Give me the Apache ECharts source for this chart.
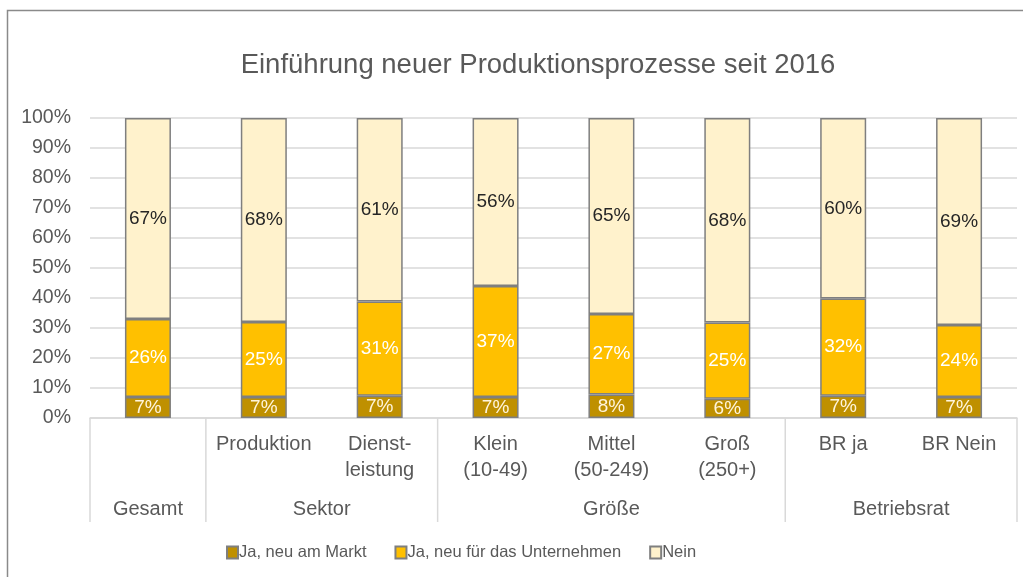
<!DOCTYPE html>
<html>
<head>
<meta charset="utf-8">
<script src="https://cdn.jsdelivr.net/npm/echarts@6/dist/echarts.min.js"></script>
<style>
html,body{margin:0;padding:0;background:#fff;}
#chart{width:1023px;height:577px;}
</style>
</head>
<body>
<div id="chart"></div>
<script>
// ---- data ----
var categories = ['', 'Produktion', 'Dienst-\nleistung', 'Klein\n(10-49)', 'Mittel\n(50-249)', 'Groß\n(250+)', 'BR ja', 'BR Nein'];
var groupNames = ['Gesamt', 'Sektor', 'Größe', 'Betriebsrat'];
var groupStart = [0, 1, 3, 6];
var groupEnd = [0, 2, 5, 7];
var seriesNames = ['Ja, neu am Markt', 'Ja, neu für das Unternehmen', 'Nein'];
var neuAmMarkt = [7, 7, 7.4, 7, 7.8, 6.4, 7.4, 7];
var neuFuerUnternehmen = [26, 25, 31.4, 37, 26.9, 25.4, 32.4, 24];
var nein = [67, 68, 61.2, 56, 65.3, 68.2, 60.2, 69];
var yTicks = [0, 10, 20, 30, 40, 50, 60, 70, 80, 90, 100];

var FONT = 'Liberation Sans';
var TXT = '#595959';
var GRID_C = '#D9D9D9';
var BORDER = '#7F7F7F';

var chart = echarts.init(document.getElementById('chart'));

function barSeries(name, data, color, labelColor) {
  return {
    name: name,
    type: 'bar',
    stack: 'total',
    barWidth: 46,
    data: data,
    itemStyle: { color: color, borderColor: BORDER, borderWidth: 1.5 },
    label: {
      show: true,
      position: 'inside',
      color: labelColor,
      fontFamily: FONT,
      fontSize: 19,
      formatter: function (p) { return Math.round(p.value) + '%'; }
    },
    emphasis: { disabled: true }
  };
}

var groupData = groupNames.map(function (n, i) {
  return { name: n, value: [groupStart[i], 0, groupEnd[i], i] };
});

var option = {
  animation: false,
  backgroundColor: '#fff',
  graphic: [{
    type: 'rect',
    shape: { x: 7.5, y: 10.5, width: 1040, height: 600 },
    style: { fill: 'none', stroke: '#8A8A8A', lineWidth: 1.5 },
    silent: true, z: 0
  }],
  title: {
    text: 'Einführung neuer Produktionsprozesse seit 2016',
    left: 533,
    top: 46,
    textAlign: 'center',
    textStyle: { fontFamily: FONT, fontSize: 27.5, fontWeight: 'normal', color: TXT }
  },
  legend: {
    data: seriesNames,
    left: 221,
    top: 539,
    icon: 'rect',
    itemWidth: 11,
    itemHeight: 12,
    itemGap: 28,
    textStyle: { fontFamily: FONT, fontSize: 16.5, color: TXT, padding: [0, 0, 0, -4] },
    selectedMode: false
  },
  grid: { left: 90, right: 6, top: 118, bottom: 159, containLabel: false },
  xAxis: {
    type: 'category',
    data: categories,
    axisLine: { show: true, lineStyle: { color: GRID_C, width: 1.5 } },
    axisTick: { show: false },
    axisLabel: {
      interval: 0,
      margin: 13,
      fontFamily: FONT,
      fontSize: 20,
      lineHeight: 26,
      color: TXT,
      align: 'center'
    }
  },
  yAxis: {
    type: 'value',
    min: yTicks[0],
    max: yTicks[yTicks.length - 1],
    interval: yTicks[1] - yTicks[0],
    axisLine: { show: false },
    axisTick: { show: false },
    splitLine: { lineStyle: { color: GRID_C, width: 1.5 } },
    axisLabel: {
      formatter: '{value}%',
      fontFamily: FONT,
      fontSize: 19.5,
      color: TXT,
      margin: 19
    }
  },
  series: [
    barSeries(seriesNames[0], neuAmMarkt, '#BF9000', '#FFF5DC'),
    barSeries(seriesNames[1], neuFuerUnternehmen, '#FFC000', '#FFFFFF'),
    barSeries(seriesNames[2], nein, '#FFF2CC', '#262626'),
    {
      name: 'groups',
      type: 'custom',
      silent: true,
      clip: false,
      data: groupData,
      encode: { x: 0, y: 1 },
      renderItem: function (params, api) {
        var s = api.value(0), e = api.value(2), idx = api.value(3);
        var p1 = api.coord([s, 0]);
        var p2 = api.coord([e, 0]);
        var bw = api.size([1, 0])[0];
        var left = p1[0] - bw / 2;
        var right = p2[0] + bw / 2;
        var y0 = p1[1];
        var children = [
          { type: 'line', shape: { x1: left, y1: y0, x2: left, y2: y0 + 104 },
            style: { stroke: GRID_C, lineWidth: 1.5 } },
          { type: 'text', style: { text: groupNames[idx], x: (left + right) / 2, y: y0 + 91,
            align: 'center', verticalAlign: 'middle', fill: TXT, fontFamily: FONT, fontSize: 20 } }
        ];
        if (idx === groupNames.length - 1) {
          children.push({ type: 'line', shape: { x1: right, y1: y0, x2: right, y2: y0 + 104 },
            style: { stroke: GRID_C, lineWidth: 1.5 } });
        }
        return { type: 'group', children: children };
      }
    }
  ]
};

chart.setOption(option);
</script>
</body>
</html>
